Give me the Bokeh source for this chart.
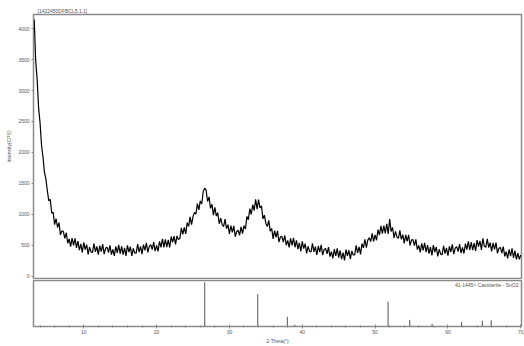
import numpy as np
from bokeh.plotting import figure
from bokeh.layouts import column
from bokeh.models import Range1d, FixedTicker, Label, ColumnDataSource
from bokeh.embed import file_html
from bokeh.resources import INLINE

# ---- data ----
scan_start = 3.2
scan_step = 0.2
intensity = [
    4150, 3480, 3180, 2720, 2480, 2120, 1930, 1680, 1570, 1380,
    1215, 1240, 1020, 1030, 830, 930, 785, 865, 665, 730,
    720, 610, 700, 530, 600, 475, 615, 495, 610, 455,
    565, 420, 520, 380, 545, 428, 507, 351, 467, 390,
    382, 524, 391, 478, 345, 493, 396, 515, 354, 448,
    467, 381, 496, 345, 430, 325, 480, 375, 505, 360,
    480, 345, 456, 326, 497, 388, 474, 325, 446, 372,
    369, 516, 388, 481, 354, 507, 415, 538, 381, 480,
    506, 427, 548, 404, 495, 398, 561, 464, 602, 465,
    593, 466, 584, 462, 640, 546, 647, 513, 649, 590,
    609, 778, 672, 786, 680, 864, 803, 957, 831, 960,
    1030, 1000, 1170, 1070, 1215, 1165, 1365, 1420, 1390, 1205,
    1280, 1095, 1160, 985, 1110, 970, 1025, 845, 935, 830,
    800, 920, 765, 830, 680, 815, 705, 810, 635, 720,
    740, 660, 795, 685, 815, 760, 965, 910, 1090, 995,
    1155, 1060, 1240, 1080, 1235, 1100, 1135, 925, 985, 850,
    800, 900, 725, 770, 600, 735, 625, 730, 550, 630,
    642, 549, 656, 498, 575, 462, 609, 496, 618, 465,
    577, 434, 536, 398, 560, 444, 523, 367, 481, 400,
    389, 528, 392, 476, 340, 486, 387, 503, 339, 430,
    446, 357, 468, 314, 395, 285, 434, 324, 448, 298,
    413, 273, 380, 252, 428, 325, 417, 275, 405, 340,
    340, 495, 375, 473, 350, 525, 455, 595, 460, 580,
    620, 555, 690, 560, 665, 578, 751, 664, 812, 685,
    815, 690, 845, 680, 920, 720, 785, 617, 721, 630,
    609, 738, 592, 670, 528, 666, 559, 667, 495, 580,
    590, 492, 593, 427, 495, 382, 529, 416, 538, 385,
    501, 362, 468, 334, 500, 387, 469, 316, 433, 355,
    347, 490, 362, 455, 328, 481, 389, 512, 354, 450,
    475, 395, 516, 372, 463, 364, 525, 426, 561, 421,
    547, 417, 532, 406, 580, 476, 567, 423, 610, 480,
    465, 600, 460, 540, 400, 538, 431, 539, 367, 450,
    462, 369, 476, 318, 395, 284, 433, 322, 446, 295,
    409, 268, 372, 270, 340,
]
two_theta = scan_start + scan_step * np.arange(len(intensity))

ref_two_theta = [26.61, 33.89, 37.95, 38.97, 51.78, 54.76, 57.82, 61.87, 64.72, 65.94]
ref_intensity = [100, 73, 22, 4, 56, 15, 6, 10, 13, 14]

y_ticks = [0, 500, 1000, 1500, 2000, 2500, 3000, 3500, 4000]
x_ticks = [10, 20, 30, 40, 50, 60, 70]
x_minor = [4, 6, 8, 12, 14, 16, 18, 22, 24, 26, 28, 32, 34, 36, 38, 42, 44, 46, 48,
           52, 54, 56, 58, 62, 64, 66, 68]

sample_name = "[1422450DFBCL5.1.1]"
ref_name = "41-1445> Cassiterite - SnO2"

# ---- layout ----
W = 524
XR = (3.1, 70.1)
grey = "#8a8a8a"
txt = "#555555"
FONT = "Liberation Sans"

top = figure(width=W, height=279, output_backend="svg", toolbar_location=None,
             x_range=Range1d(*XR), y_range=Range1d(-40, 4230),
             min_border_left=33, min_border_right=3, min_border_top=14, min_border_bottom=1)
top.line(two_theta, intensity, line_color="black", line_width=1.2)
top.xaxis.visible = False
top.xgrid.visible = False
top.ygrid.visible = False
top.outline_line_color = grey
top.outline_line_width = 1.5
top.title.text = sample_name
top.title.text_font_size = "5px"
top.title.text_font_style = "normal"
top.title.text_color = txt
top.title.text_font = FONT
top.title.align = "left"
top.title.offset = 4
top.title.standoff = 1
ya = top.yaxis[0]
ya.ticker = FixedTicker(ticks=y_ticks)
ya.axis_line_color = grey
ya.major_tick_line_color = grey
ya.minor_tick_line_color = None
ya.major_tick_out = 2
ya.major_tick_in = 0
ya.major_label_standoff = 2
ya.major_label_text_font_size = "5px"
ya.major_label_text_color = txt
ya.major_label_text_font = FONT
ya.axis_label = "Intensity(CPS)"
ya.axis_label_text_font_size = "5px"
ya.axis_label_text_font_style = "normal"
ya.axis_label_text_color = txt
ya.axis_label_text_font = FONT
ya.axis_label_standoff = 3

bot = figure(width=W, height=67, output_backend="svg", toolbar_location=None,
             x_range=top.x_range, y_range=Range1d(0, 104),
             min_border_left=33, min_border_right=3, min_border_top=1, min_border_bottom=16)
src = ColumnDataSource(dict(x=ref_two_theta, y=ref_intensity))
bot.segment(x0="x", y0=0, x1="x", y1="y", source=src, line_color="#555555", line_width=1)
bot.xgrid.visible = False
bot.ygrid.visible = False
bot.outline_line_color = grey
bot.outline_line_width = 1.5
bot.yaxis.visible = False
xa = bot.xaxis[0]
xa.ticker = FixedTicker(ticks=x_ticks, minor_ticks=x_minor)
xa.axis_line_color = grey
xa.major_tick_line_color = grey
xa.minor_tick_line_color = grey
xa.major_tick_out = 2
xa.major_tick_in = 2
xa.minor_tick_out = 1
xa.minor_tick_in = 1
xa.major_label_standoff = 1
xa.major_label_text_font_size = "5px"
xa.major_label_text_color = txt
xa.major_label_text_font = FONT
xa.axis_label = "2-Theta(°)"
xa.axis_label_text_font_size = "5px"
xa.axis_label_text_font_style = "normal"
xa.axis_label_text_color = txt
xa.axis_label_text_font = FONT
xa.axis_label_standoff = 1
bot.add_layout(Label(x=485, y=45, x_units="screen", y_units="screen", text=ref_name,
                     text_font_size="5px", text_color=txt, text_font=FONT,
                     text_align="right", text_baseline="top"))

layout = column(top, bot, spacing=0)
open("out.html", "w").write(file_html(layout, INLINE))
